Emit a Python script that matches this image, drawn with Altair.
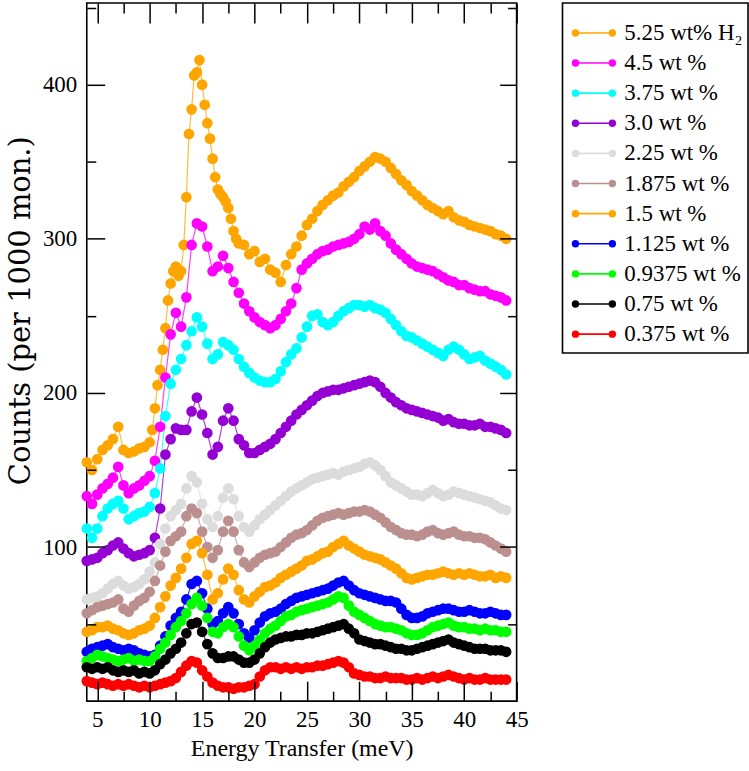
import altair as alt
import pandas as pd

# ---------------- data ----------------
E = [4.0 + 0.5 * i for i in range(81)]
E_TOP = ([4.0 + 0.5 * i for i in range(13)] + [10.25 + 0.25 * i for i in range(34)]
         + [19.0 + 0.5 * i for i in range(51)])

LABELS = ["5.25 wt% H\u2082", "4.5 wt %", "3.75 wt %", "3.0 wt %", "2.25 wt %",
          "1.875 wt %", "1.5 wt %", "1.125 wt %", "0.9375 wt %", "0.75 wt %", "0.375 wt %"]
COLORS = ["#FFA500", "#FF00FF", "#00FFFF", "#9400D3", "#DCDCDC",
          "#BC8F8F", "#FFA500", "#0000FF", "#00FF00", "#000000", "#FF0000"]

C_525 = [155, 150, 157, 163, 166, 170, 178, 163, 161, 162, 164, 165, 168,
         176, 190, 205, 215, 228, 242, 260, 271, 279, 282, 276, 279, 296, 327, 368, 384,
         406, 408, 416, 400, 387, 375, 365, 352, 340, 332, 329, 327, 324, 320, 313, 305, 300, 297,
         296, 290, 292, 285, 287, 280, 278, 272, 283, 290,
         295, 302, 309, 313, 318, 322, 325, 328, 330, 334,
         337, 340, 344, 347, 350, 353, 352, 350, 346, 342,
         338, 335, 331, 328, 325, 322, 320, 318, 316, 318,
         314, 312, 311, 309, 308, 307, 306, 305, 303, 302, 300]
C_450 = [133, 128, 134, 138, 141, 145, 152, 140, 135, 138,
         140, 143, 146, 156, 178, 210, 238, 252, 243, 262,
         296, 310, 308, 295, 279, 282, 289, 281, 272, 265,
         258, 253, 249, 246, 244, 242, 244, 248, 253, 258,
         268, 280, 284, 287, 290, 292, 293, 295, 296, 297,
         298, 300, 303, 308, 306, 310, 305, 302, 297, 293,
         290, 287, 284, 282, 281, 280, 279, 277, 275, 273,
         272, 270, 270, 268, 267, 266, 266, 264, 263, 262, 260]
C_375 = [112, 106, 112, 120, 125, 128, 130, 125, 118, 120,
         122, 123, 126, 135, 151, 185, 206, 215, 222, 231,
         240, 249, 243, 232, 222, 225, 233, 231, 228, 222,
         217, 213, 210, 208, 207, 207, 209, 214, 220, 225,
         229, 236, 243, 250, 251, 246, 244, 246, 250, 253,
         255, 257, 257, 256, 257, 255, 254, 252, 248, 244,
         240, 237, 236, 234, 232, 230, 228, 226, 224, 228,
         230, 228, 225, 222, 223, 224, 221, 219, 217, 215, 212]
C_300 = [91, 92, 93, 96, 98, 101, 103, 99, 96, 94,
         95, 96, 98, 106, 125, 160, 170, 177, 176, 176,
         188, 197, 186, 174, 160, 165, 182, 190, 182, 170,
         166, 161, 161, 163, 165, 167, 170, 174, 178, 182,
         186, 189, 192, 195, 198, 200, 201, 202, 202, 203,
         204, 205, 206, 207, 208, 207, 204, 200, 197, 194,
         192, 190, 189, 188, 187, 186, 185, 184, 182, 183,
         181, 180, 180, 179, 179, 180, 178, 178, 177, 176, 174]
C_225 = [66, 67, 68, 70, 73, 76, 78, 75, 73, 74,
         76, 79, 84, 90, 102, 112, 120, 124, 128, 138,
         146, 142, 128, 118, 113, 120, 132, 138, 131, 120,
         113, 110, 114, 118, 121, 124, 127, 130, 133, 136,
         138, 140, 142, 144, 145, 146, 147, 148, 147, 149,
         150, 151, 152, 154, 155, 153, 150, 146, 142, 140,
         138, 136, 134, 134, 133, 135, 137, 135, 133, 134,
         136, 135, 134, 133, 132, 131, 130, 129, 127, 125, 124]
C_1875 = [57, 59, 61, 62, 63, 64, 66, 60, 58, 62,
          65, 67, 71, 78, 88, 97, 104, 107, 110, 120,
          125, 122, 110, 100, 93, 98, 110, 117, 110, 98,
          90, 87, 90, 93, 95, 96, 97, 100, 103, 106,
          108, 109, 111, 114, 117, 119, 120, 121, 122, 121,
          122, 123, 123, 124, 123, 121, 119, 116, 113, 111,
          109, 108, 108, 107, 108, 110, 111, 109, 108, 109,
          110, 108, 107, 107, 106, 106, 105, 103, 101, 99, 97]
C_150 = [45, 46, 48, 48, 49, 47, 46, 44, 43, 44,
         46, 47, 49, 54, 61, 68, 75, 80, 86, 93,
         102, 104, 96, 82, 66, 70, 79, 86, 82, 72,
         66, 64, 68, 71, 74, 75, 77, 80, 82, 84,
         86, 88, 91, 92, 94, 96, 97, 100, 102, 104,
         101, 99, 97, 95, 94, 93, 92, 90, 88, 86,
         83, 80, 79, 80, 81, 82, 82, 83, 84, 83,
         82, 83, 82, 83, 82, 81, 81, 82, 80, 81, 80]
C_1125 = [32, 34, 35, 36, 37, 35, 34, 33, 34, 33,
          31, 30, 29, 30, 36, 42, 49, 54, 58, 66,
          76, 78, 70, 60, 50, 52, 57, 61, 57, 50,
          44, 41, 46, 51, 55, 57, 58, 60, 63, 65,
          67, 68, 69, 70, 71, 72, 73, 75, 77, 78,
          75, 72, 70, 69, 68, 67, 66, 65, 65, 64,
          60, 56, 54, 54, 55, 57, 58, 59, 60, 60,
          59, 58, 58, 59, 58, 57, 57, 58, 57, 56, 56]
C_09375 = [26, 28, 30, 29, 28, 27, 26, 27, 28, 26,
           27, 26, 26, 29, 34, 38, 43, 48, 52, 57,
           63, 67, 62, 54, 45, 44, 48, 50, 48, 42,
           36, 33, 36, 40, 44, 47, 49, 52, 55, 56,
           58, 59, 60, 61, 62, 63, 64, 66, 68, 67,
           62, 58, 56, 54, 52, 50, 49, 48, 48, 47,
           46, 44, 43, 43, 44, 46, 48, 49, 50, 51,
           49, 48, 48, 47, 47, 46, 47, 46, 46, 45, 45]
C_075 = [22, 21, 22, 21, 22, 20, 19, 20, 19, 20,
         18, 19, 18, 20, 24, 27, 31, 34, 38, 44,
         50, 51, 45, 37, 31, 28, 28, 29, 29, 27,
         25, 25, 27, 31, 35, 38, 40, 41, 42, 42,
         43, 43, 44, 44, 45, 46, 47, 48, 49, 50,
         47, 44, 40, 39, 38, 37, 37, 36, 35, 34,
         34, 33, 33, 34, 35, 36, 37, 38, 39, 40,
         38, 37, 36, 35, 34, 34, 34, 33, 33, 33, 32]
C_0375 = [13, 12, 11, 12, 11, 10, 11, 10, 11, 10,
          9, 10, 9, 10, 11, 12, 13, 15, 19, 23,
          26, 25, 20, 16, 12, 10, 9, 9, 8, 9,
          9, 10, 11, 16, 20, 22, 22, 21, 22, 21,
          22, 21, 22, 22, 23, 23, 24, 25, 26, 25,
          22, 18, 17, 16, 16, 15, 15, 16, 15, 15,
          15, 14, 14, 15, 14, 15, 16, 15, 16, 17,
          16, 15, 14, 15, 14, 14, 15, 14, 14, 14, 14]

X_MAJOR = [5, 10, 15, 20, 25, 30, 35, 40, 45]
X_MINOR = [7.5, 12.5, 17.5, 22.5, 27.5, 32.5, 37.5, 42.5]
Y_MAJOR = [100, 200, 300, 400]
Y_MINOR = [50, 150, 250, 350, 450]

SERIES = [(LABELS[0], E_TOP, C_525), (LABELS[1], E, C_450), (LABELS[2], E, C_375),
          (LABELS[3], E, C_300), (LABELS[4], E, C_225), (LABELS[5], E, C_1875),
          (LABELS[6], E, C_150), (LABELS[7], E, C_1125), (LABELS[8], E, C_09375),
          (LABELS[9], E, C_075), (LABELS[10], E, C_0375)]

rows = []
for k, (name, xs, ys) in enumerate(SERIES):
    for x, y in zip(xs, ys):
        rows.append({"series": name, "k": k, "E": x, "counts": y})
df = pd.DataFrame(rows)

FONT = "Liberation Serif"
TFONT = "DejaVu Serif"
XS = alt.Scale(domain=[4, 45], nice=False, zero=False)
YS = alt.Scale(domain=[0, 453], nice=False, zero=False)
CS = alt.Scale(domain=LABELS, range=COLORS)


def axis(orient, values, size, labels=False, title=None, **extra):
    kw = dict(orient=orient, values=values, tickSize=size, offset=-size, domain=False,
              grid=False, ticks=True, tickColor="black", tickWidth=1.5, labels=labels,
              zindex=1, title=title)
    if labels:
        kw.update(labelFont=FONT, labelFontSize=23, labelColor="black",
                  labelFlush=False, labelOverlap=False)
    kw.update(extra)
    return alt.Axis(**kw)


ax_b = axis("bottom", X_MAJOR, 20, labels=True, title="Energy Transfer (meV)",
            labelPadding=7, titleFont=FONT, titleFontSize=24, titleFontWeight="normal",
            titleColor="black", titlePadding=6)
ax_b2 = axis("bottom", X_MINOR, 10)
ax_t = axis("top", X_MAJOR, 20)
ax_t2 = axis("top", X_MINOR, 10)
ax_l = axis("left", Y_MAJOR, 18, labels=True, title="Counts (per 1000 mon.)",
            labelPadding=10, titleFont=TFONT, titleFontSize=29,
            titleFontWeight="normal", titleColor="black", titlePadding=7, titleY=308)
ax_l2 = axis("left", Y_MINOR, 9)
ax_r = axis("right", Y_MAJOR, 17)
ax_r2 = axis("right", Y_MINOR, 9)

base = alt.Chart(df)
color = alt.Color("series:N", scale=CS, legend=None)

lines = base.mark_line(strokeWidth=1.2, opacity=0.75).encode(
    x=alt.X("E:Q", scale=XS, axis=ax_b),
    y=alt.Y("counts:Q", scale=YS, axis=ax_l),
    color=color, detail="series:N")
points = base.mark_circle(size=115, opacity=1).encode(
    x=alt.X("E:Q", scale=XS, axis=ax_b2),
    y=alt.Y("counts:Q", scale=YS, axis=ax_l2),
    color=color)
ghost1 = base.mark_circle(opacity=0).encode(
    x=alt.X("E:Q", scale=XS, axis=ax_t),
    y=alt.Y("counts:Q", scale=YS, axis=ax_r))
ghost2 = base.mark_circle(opacity=0).encode(
    x=alt.X("E:Q", scale=XS, axis=ax_t2),
    y=alt.Y("counts:Q", scale=YS, axis=ax_r2))

main = alt.layer(lines, points, ghost1, ghost2).resolve_axis(
    x="independent", y="independent").properties(width=431, height=700)

# ---------------- legend ----------------
leg_df = pd.DataFrame({"series": LABELS})
ly = alt.Y("series:N", sort=LABELS, scale=alt.Scale(type="point", range=[30, 332], padding=0),
           axis=None)
lbase = alt.Chart(leg_df)
lrule = lbase.mark_rule(strokeWidth=1.6).encode(
    x=alt.value(13), x2=alt.value(50), y=ly, color=color)
ldot1 = lbase.mark_circle(size=55, opacity=1).encode(x=alt.value(13), y=ly, color=color)
ldot2 = lbase.mark_circle(size=55, opacity=1).encode(x=alt.value(50), y=ly, color=color)
ltext = lbase.mark_text(align="left", baseline="middle", font=FONT, fontSize=23,
                        color="black").encode(x=alt.value(62), y=ly, text="series:N")
legend = alt.layer(lrule, ldot1, ldot2, ltext).properties(width=186, height=351)

chart = alt.hconcat(main, legend, spacing=32).properties(
    padding={"left": 5, "top": 0, "right": 0, "bottom": 0},
    background="white"
).configure_view(stroke="black", strokeWidth=1.6)

chart.save("out.html", embed_options={"renderer": "svg", "actions": False})
